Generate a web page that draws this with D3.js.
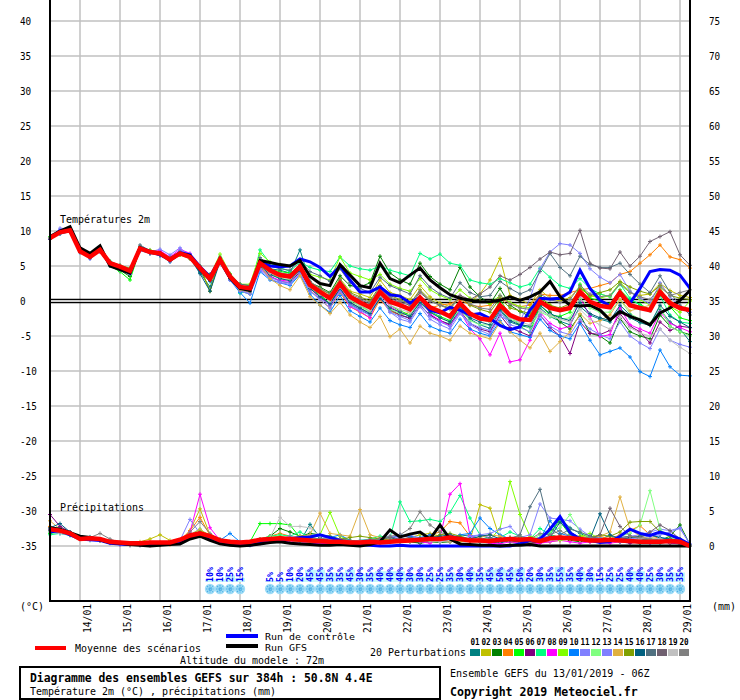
<!DOCTYPE html>
<html>
<head>
<meta charset="utf-8">
<script src="https://cdn.jsdelivr.net/npm/d3@7"></script>
<style>
body{margin:0;background:#fff}
svg{display:block}
text{font-family:"DejaVu Sans Mono",monospace}
</style>
</head>
<body>
<div id="chart"></div>
<script>
// pas de 6h depuis le 13/01/2019 06Z -> 65 echeances (384h)
const runStart = Date.UTC(2019, 0, 13, 6);
const nSteps = 65;

// graduations
const tempTicks = [-35,-30,-25,-20,-15,-10,-5,0,5,10,15,20,25,30,35,40];
const mmTicks = [0,5,10,15,20,25,30,35,40,45,50,55,60,65,70,75];

// couleurs des 20 perturbations
const memberColors = ['#008080','#c0c000','#008000','#ff8000','#00ff00','#800080','#00ff80','#ff00ff','#80ff00','#0080ff',
  '#8080ff','#80ff80','#7f7fff','#e0b040','#80a000','#006080','#507080','#706070','#c0c0c0','#808080'];

/* temperatures 2m (degC) */
const tempMean = [9.0,9.8,10.1,7.1,6.3,7.3,5.4,4.9,4.3,7.5,
  7.0,6.8,5.9,6.8,6.3,4.7,3.2,5.9,3.5,2.0,
  1.8,5.4,4.4,3.7,3.5,4.9,2.3,1.3,0.4,2.5,
  0.6,-0.2,-0.9,1.3,-0.1,-0.6,-1.2,0.5,-0.9,-1.5,
  -2.2,-0.3,-1.8,-2.5,-2.7,-0.6,-2.0,-2.6,-2.7,-0.1,
  -1.0,-1.3,-1.0,1.3,-0.1,-0.7,-0.9,1.2,-0.6,-1.0,
  -1.3,1.3,-0.3,-1.0,-1.3];
const tempControl = [9.0,10.0,10.2,7.3,6.5,7.4,5.2,4.6,4.0,7.6,
  7.1,6.6,6.0,6.9,6.6,4.9,3.5,6.0,3.4,1.9,
  1.6,5.6,5.0,4.9,5.0,6.0,5.6,4.8,3.5,5.0,
  3.0,1.3,1.3,2.0,0.9,0.7,-0.3,0.5,-1.3,-1.7,
  -0.9,-1.3,-2.0,-1.8,-2.5,-3.5,-4.1,-3.7,-1.3,0.4,
  0.3,0.4,1.3,4.4,1.8,0.1,-0.7,1.1,-0.3,1.8,
  4.2,4.5,4.4,3.7,1.8];
const tempGfs = [9.2,10.0,10.6,7.6,6.8,7.9,5.0,4.5,4.0,7.6,
  7.0,6.9,5.8,6.8,6.5,4.5,3.0,5.9,3.3,1.8,
  1.5,5.8,5.5,5.2,5.0,5.8,3.5,2.5,2.2,5.2,
  3.7,2.2,1.9,5.4,3.2,2.6,3.7,4.7,3.0,1.9,
  0.9,0.4,0.1,-0.1,-0.1,0.1,0.6,0.1,0.6,1.3,
  2.8,0.6,-0.6,-0.7,-0.6,-1.3,-2.7,-1.5,-2.2,-2.7,
  -3.4,-1.7,-1.0,0.1,1.5];
const tempMembers = [
  [8.9,9.6,9.9,7.0,6.1,7.2,5.6,4.7,4.1,7.8, 6.9,6.5,5.6,6.9,6.0,4.1,2.0,5.7,3.2,1.4,
   1.0,5.8,4.6,4.4,4.0,7.3,2.8,1.0,-0.5,1.8, -0.4,-1.2,-2.0,0.6,-1.4,-2.0,-2.4,-0.6,-2.0,-2.8,
   -3.3,-1.2,-2.6,-3.4,-3.9,-1.4,-3.0,-3.5,-3.8,-1.0, -2.2,-2.9,-3.4,-0.8,-2.0,-2.6,-3.0,-1.0,-2.4,-3.1,
   -3.5,-1.2,-3.0,-4.0,-5.8],
  [9.1,9.9,10.0,7.2,6.4,7.5,5.2,4.6,4.4,7.4, 7.2,7.0,6.1,6.6,6.5,4.9,1.4,6.2,3.7,1.9,
   2.0,5.1,4.0,3.4,3.8,4.6,2.0,1.6,1.0,3.2, 1.4,1.0,0.5,3.0,1.2,0.8,0.2,2.2,0.6,-0.3,
   -0.8,0.6,-0.2,1.0,3.0,6.1,0.8,0.2,-0.5,1.6, 0.4,0.0,0.5,2.0,0.6,1.0,0.6,2.6,1.2,0.8,
   1.0,2.5,1.5,0.8,0.5],
  [9.0,9.7,10.1,7.0,6.4,7.1,5.3,4.4,3.5,7.3, 7.1,6.7,5.8,6.7,6.2,4.5,3.8,5.9,3.6,2.4,
   2.2,5.6,4.3,3.9,3.3,5.2,2.6,2.0,1.2,3.6, 2.2,2.0,2.6,6.4,4.0,3.0,2.4,5.4,3.5,2.4,
   1.6,4.8,2.0,0.6,-0.4,1.8,-0.6,-1.5,-2.2,0.8, -1.6,-3.0,-4.0,-2.0,-4.6,-5.0,-6.0,-2.5,-4.4,-5.0,
   -5.4,-2.0,-3.6,-4.4,-4.8],
  [9.0,9.8,10.2,7.2,6.3,7.4,5.5,5.0,4.5,7.6, 7.0,6.9,6.0,7.0,6.4,4.8,3.4,6.0,3.2,2.0,
   1.6,5.2,4.0,3.2,3.0,4.4,1.6,0.2,-1.0,1.2, -0.8,-1.6,-2.4,0.2,-1.4,-2.0,-1.6,0.2,-1.0,-0.6,
   -0.4,0.2,-0.6,-0.8,-0.6,0.4,-0.3,-0.8,-0.6,1.0, 0.8,0.8,1.2,1.6,1.8,2.2,2.6,3.8,4.2,5.4,
   6.6,8.0,6.3,5.9,4.7],
  [9.2,10.0,10.0,7.1,6.2,7.2,5.0,4.2,3.0,7.4, 6.8,6.9,5.7,6.6,6.2,4.6,2.8,6.3,3.8,1.8,
   1.4,5.0,4.5,4.2,4.0,4.8,2.0,0.8,-0.4,2.2, 0.2,-0.6,-1.5,1.0,-0.6,-1.4,-2.0,-0.2,-1.5,-2.2,
   -2.8,-0.8,-2.0,-2.6,-3.0,0.2,-2.0,-3.6,-4.5,-0.6, -2.0,-2.2,-1.6,2.4,0.4,0.0,-0.4,1.6,0.2,-0.5,
   -1.2,1.0,-0.8,-2.4,-2.8],
  [8.8,9.7,10.0,7.0,6.2,7.1,5.3,4.8,4.2,7.3, 6.8,6.9,5.7,7.0,6.4,4.4,3.0,5.5,3.2,1.8,
   1.6,4.8,3.6,2.8,2.6,4.2,1.8,0.6,-0.6,1.8, -0.2,-1.0,-1.8,0.4,-1.2,-2.0,-2.5,-0.6,-2.0,-2.8,
   -3.4,-1.4,-3.2,-4.0,-4.4,-2.0,-3.8,-4.4,-5.0,-2.0, -3.8,-5.0,-7.5,-3.0,-4.6,-4.8,-4.2,-1.8,-3.6,-4.4,
   -6.0,-3.0,-4.2,-3.6,-3.8],
  [9.0,9.8,10.1,7.1,6.3,7.3,5.7,5.0,4.6,7.4, 7.1,6.6,5.8,6.8,6.1,4.6,3.0,6.1,3.9,1.1,
   1.5,7.3,5.4,4.8,4.2,5.6,4.8,4.4,4.2,6.3, 5.0,4.6,4.4,5.0,4.4,4.0,3.6,6.8,6.0,6.7,
   5.4,5.1,3.0,2.6,2.4,3.2,2.6,2.0,2.4,4.7, 3.4,2.2,1.8,3.2,1.8,1.0,0.6,2.4,0.4,-0.6,
   -1.4,0.8,-2.0,-3.0,-3.2],
  [9.0,9.7,10.0,7.0,6.4,7.4,5.4,5.0,4.4,7.6, 7.0,7.2,6.3,7.4,6.8,4.9,3.2,5.8,3.3,1.6,
   1.2,4.6,3.4,3.0,2.8,4.8,1.8,0.6,-0.6,1.6, -0.8,-1.5,-2.4,1.0,-0.8,-1.6,-2.2,0.4,-1.8,-2.8,
   -3.6,-1.4,-4.0,-5.4,-7.7,-4.6,-8.7,-8.4,-5.6,-1.6, -3.2,-4.0,-3.6,0.6,-2.2,-5.1,-4.8,-1.0,-3.4,-4.0,
   -4.6,-1.6,-3.2,-3.8,-4.4],
  [9.1,9.9,10.2,7.3,6.5,7.5,5.6,5.1,4.7,7.7, 7.3,6.9,6.2,7.1,6.6,5.0,3.6,6.7,3.9,2.4,
   2.4,6.8,5.6,5.2,5.0,5.8,3.8,3.4,3.0,6.3, 4.0,3.5,3.0,3.8,2.4,1.8,1.4,3.2,1.6,0.8,
   0.2,1.6,0.4,0.0,-0.4,0.8,-0.2,-0.8,-1.0,0.6, -0.6,-1.2,-1.0,1.8,0.8,0.4,0.8,2.6,1.4,0.2,
   -0.6,2.0,-0.8,-1.6,0.0],
  [8.9,9.6,9.9,6.9,6.2,7.2,5.2,4.7,4.1,7.2, 6.8,6.5,5.7,7.2,6.6,4.4,2.8,5.4,3.0,1.2,
   -0.3,4.2,3.0,2.6,2.2,3.8,1.0,-0.6,-1.6,0.8, -1.4,-2.2,-3.0,-1.0,-2.8,-3.4,-3.8,-1.8,-3.6,-4.2,
   -4.6,-2.6,-4.0,-4.6,-5.0,-2.8,-4.4,-4.8,-5.2,-2.6, -4.2,-5.0,-5.4,-3.2,-5.6,-7.7,-7.2,-6.7,-8.0,-10.1,
   -10.8,-7.0,-9.4,-10.6,-10.7],
  [9.1,10.2,10.0,7.2,6.4,7.0,5.0,4.4,3.8,7.2, 7.0,7.4,6.6,7.6,6.4,4.6,3.2,5.6,3.0,1.4,
   1.0,4.4,3.2,2.6,2.4,4.0,1.4,0.2,-1.0,1.4, -0.6,-1.4,-2.0,0.6,-1.6,-2.6,-3.0,-0.8,-2.6,-3.4,
   -4.0,-1.8,-3.4,-4.2,-4.8,-2.2,-2.8,-3.0,0.4,4.6, 7.0,8.2,8.0,6.8,4.6,3.4,2.6,3.8,1.4,0.4,
   -0.4,2.6,0.6,-0.8,-1.6],
  [9.0,9.8,10.0,7.1,6.2,7.3,5.5,4.9,4.4,7.4, 7.0,6.8,6.0,6.9,6.3,4.7,3.4,6.4,3.6,2.1,
   1.8,5.2,3.8,3.2,3.0,4.6,2.2,1.0,0.2,2.2, 0.0,-0.8,-1.6,0.6,-1.2,-1.8,-2.0,0.0,-1.6,-2.4,
   -3.0,-1.2,-2.8,-3.4,-3.4,-1.0,-2.6,-3.2,-3.8,-1.6, -2.2,-2.6,-2.4,0.4,-1.0,-1.6,-1.6,0.2,-1.8,-2.6,
   -3.2,-0.8,-3.6,-4.4,-5.0],
  [9.0,10.4,10.3,7.0,6.0,7.2,5.5,4.6,4.0,7.4, 6.8,6.6,5.6,7.2,6.7,4.8,3.0,5.6,3.0,1.6,
   1.2,4.6,3.4,2.8,2.6,3.8,1.4,0.4,-0.6,1.6, -0.6,-1.2,-1.8,0.8,-1.6,-2.2,-2.8,-0.4,-2.2,-3.0,
   -3.6,-1.6,-3.2,-3.8,-4.2,-1.6,-3.4,-3.8,-4.4,-2.0, -3.6,-4.4,-4.8,-2.6,-4.0,-4.8,-5.4,-3.0,-5.0,-6.0,
   -6.8,-4.0,-5.6,-6.2,-6.6],
  [9.0,9.8,10.1,7.2,6.4,7.3,5.3,4.8,4.2,7.5, 7.0,6.8,5.8,6.6,6.0,4.6,3.0,5.8,3.2,1.6,
   1.3,5.0,3.2,2.2,1.6,3.6,0.6,-0.6,-1.8,-0.2, -2.0,-3.0,-3.8,-2.2,-5.1,-4.0,-6.0,-3.6,-4.6,-5.0,
   -5.6,-3.6,-4.6,-5.0,-5.4,-3.0,-4.4,-5.6,-6.7,-4.6, -7.2,-5.8,-4.4,-1.8,-3.2,-2.8,-2.0,0.2,-1.4,-1.0,
   -0.6,1.4,0.0,-0.8,-1.2],
  [9.0,9.8,10.1,7.0,6.3,7.3,5.4,4.9,4.4,7.4, 7.0,6.6,6.0,6.6,6.2,4.8,1.4,6.0,3.6,2.2,
   1.9,5.6,4.4,3.8,3.6,5.0,2.6,1.8,1.0,3.0, 1.2,0.6,0.0,2.2,0.8,0.2,-0.4,1.6,0.2,-0.6,
   -1.2,0.6,-0.6,-1.2,-1.6,0.4,-1.0,-1.4,-1.8,0.6, -0.6,-1.0,-0.4,1.8,0.8,1.2,1.6,2.8,2.0,1.4,
   1.0,2.2,0.8,0.4,0.2],
  [8.9,9.7,10.0,7.0,6.2,7.2,5.3,4.7,4.2,7.5, 6.9,6.7,5.8,6.8,6.2,3.9,1.4,5.6,3.2,1.8,
   1.4,5.0,3.8,3.2,2.9,4.4,1.8,0.6,-0.4,1.8, -0.2,-1.0,-1.8,0.4,-1.0,-1.6,-2.2,-0.2,-1.6,-2.4,
   -3.0,-0.8,-2.4,-3.0,-3.4,-1.2,-2.8,-3.4,-3.6,-0.6, -1.8,-2.4,-2.8,-0.2,-1.8,-2.4,-2.8,-0.6,-2.0,-2.8,
   -3.4,-0.6,-2.2,-3.0,-3.8],
  [9.0,9.9,10.1,7.2,6.5,7.4,5.6,5.1,4.6,8.0, 7.2,6.9,6.2,7.0,6.5,5.0,3.5,6.2,3.8,2.4,
   2.2,6.2,5.0,4.6,4.4,5.8,4.2,3.6,2.8,4.6, 2.6,1.8,1.2,3.4,2.2,1.6,1.0,3.6,2.0,1.0,
   0.4,2.6,1.2,0.6,0.8,2.8,1.8,1.0,1.6,4.2, 6.8,4.8,3.6,6.4,5.2,4.8,4.8,5.4,3.8,2.4,
   1.2,3.6,1.2,-0.6,-2.0],
  [9.0,9.8,10.1,7.1,6.3,7.3,5.4,4.8,4.2,7.5, 7.0,6.8,6.0,6.8,6.2,4.6,3.2,6.0,3.6,2.0,
   1.8,5.6,4.0,3.6,3.4,5.0,2.6,1.4,0.6,2.6, 0.8,0.2,-0.4,1.8,0.4,-0.2,-0.6,1.2,0.0,-0.6,
   -1.0,0.8,0.2,1.0,2.0,3.6,3.0,3.8,4.8,6.0, 7.0,6.6,6.8,10.1,5.4,4.7,4.6,7.0,5.0,6.4,
   8.5,9.2,9.9,6.6,5.1],
  [9.0,9.8,10.0,7.1,6.3,7.2,5.4,4.8,4.2,7.4, 7.0,6.8,6.0,6.8,6.3,4.7,3.2,5.8,3.4,1.9,
   1.7,5.2,4.0,3.5,3.2,4.6,2.0,1.0,0.0,2.0, 0.2,-0.6,-1.4,0.8,-0.6,-1.2,-1.6,0.2,-1.2,-1.8,
   -2.4,-0.6,-2.0,-2.6,-3.0,-0.8,-2.4,-3.0,-3.4,-1.4, -2.0,-2.6,-3.0,-1.2,-2.6,-3.4,-4.0,-2.4,-3.8,-4.6,
   -5.0,-4.0,-5.6,-6.6,-7.5],
  [9.0,9.8,10.1,7.2,6.4,7.3,5.5,5.0,4.4,7.6, 7.0,6.8,5.9,6.8,6.3,4.8,3.3,5.9,3.6,2.1,
   1.9,5.5,4.4,4.0,3.8,5.2,2.8,1.8,1.0,3.0, 1.0,0.4,-0.2,2.0,0.6,0.0,-0.4,1.4,0.0,-0.6,
   -1.0,0.6,-0.4,-1.0,-1.2,0.8,-0.4,-1.0,-1.2,1.0, 0.2,-0.2,0.2,2.2,1.0,0.6,0.8,2.4,1.2,0.6,
   0.2,2.0,0.8,1.2,1.6]
];

/* precipitations (mm / 6h) */
const rainMean = [2.4,2.2,1.8,1.0,1.1,1.0,0.6,0.5,0.4,0.4,
  0.5,0.5,0.5,0.9,1.5,1.8,1.4,0.8,0.6,0.5,
  0.6,0.9,1.0,1.1,1.0,0.9,0.8,0.7,0.6,0.6,
  0.5,0.5,0.6,0.5,0.6,0.7,0.8,0.9,1.0,1.0,
  1.2,1.0,0.8,0.8,0.7,0.9,1.0,0.9,1.0,0.7,
  1.1,1.2,1.1,1.0,0.8,0.8,0.9,0.8,0.7,0.6,
  0.6,0.6,0.7,0.6,0.0];
const rainControl = [2.0,2.2,1.6,1.0,0.9,0.8,0.4,0.3,0.2,0.2,
  0.2,0.2,0.3,0.6,1.2,1.5,1.0,0.4,0.2,0.1,
  0.1,0.4,0.6,0.8,1.0,1.2,1.3,1.6,1.2,0.8,
  0.4,0.2,0.1,0.0,0.0,0.1,0.0,0.0,0.0,0.0,
  0.0,0.0,0.0,0.0,0.0,0.0,0.0,0.3,0.8,1.0,
  2.4,4.2,1.9,1.0,0.8,0.5,0.6,1.4,2.4,1.8,
  1.5,2.0,1.6,1.0,0.2];
const rainGfs = [2.6,2.4,1.9,1.4,1.2,0.9,0.5,0.4,0.2,0.1,
  0.0,0.1,0.2,0.3,1.0,1.4,0.8,0.3,0.1,0.0,
  0.1,0.3,0.5,0.6,0.4,0.3,0.2,0.1,0.1,0.2,
  0.1,0.0,0.2,0.6,2.3,1.3,1.7,2.0,1.0,3.0,
  1.0,0.3,0.2,0.1,0.1,0.0,0.1,0.1,0.2,0.0,
  0.0,0.0,0.0,0.0,0.0,0.0,0.0,0.0,0.0,0.0,
  0.0,0.0,0.0,0.0,0.0];
const rainMembers = [
  [2.3,2.6,1.6,1.0,1.3,1.0,0.5,0.2,0.1,0.1, 0.2,0.3,0.4,0.8,1.6,2.0,1.2,0.5,0.3,0.2,
   0.1,0.6,0.9,1.0,0.8,0.6,3.1,1.2,0.6,0.4, 0.3,0.2,0.3,0.4,0.6,0.8,0.6,0.5,0.7,0.9,
   1.2,1.4,1.6,1.0,0.6,0.4,0.8,0.6,0.5,0.4, 1.5,4.0,2.6,1.8,1.2,1.0,1.5,0.8,0.6,0.4, 0.5,0.4,0.6,0.8,0.0],
  [2.0,2.2,1.8,1.2,1.0,0.8,0.4,0.3,0.2,0.6, 1.0,1.6,0.8,0.6,2.2,5.3,1.6,0.4,0.2,0.1,
   0.2,0.4,0.6,0.8,0.6,0.4,0.3,0.5,0.6,0.4, 0.3,0.4,0.5,0.6,1.0,0.8,1.2,1.6,1.8,1.4,
   1.0,0.6,0.8,5.9,5.4,1.0,0.6,0.4,0.3,0.5, 0.6,0.8,1.0,1.4,1.2,1.0,0.8,0.6,0.8,1.0, 1.2,1.0,0.8,0.6,0.0],
  [2.6,2.4,1.9,1.1,1.0,0.9,0.6,0.4,0.3,0.2, 0.2,0.2,0.3,0.5,1.2,1.4,1.0,0.6,0.4,0.3,
   0.4,0.8,1.4,2.5,2.0,1.4,1.8,1.6,1.4,1.0, 0.8,0.6,0.8,1.0,1.2,0.8,0.6,0.4,0.6,0.5,
   0.6,0.8,1.0,0.9,0.7,0.6,0.8,0.5,0.6,0.8, 1.6,1.2,0.8,0.6,0.9,0.7,0.8,0.6,0.8,0.5, 0.6,0.8,1.4,3.0,0.2],
  [2.8,2.2,1.7,1.0,1.1,1.0,0.6,0.4,0.2,0.2, 0.1,0.1,0.2,0.8,2.2,4.1,1.5,0.6,0.3,0.2,
   0.3,1.0,1.4,1.8,1.4,1.2,1.0,0.8,0.6,0.7, 0.6,0.4,0.5,0.6,0.8,0.9,1.0,0.8,1.6,2.0,
   3.5,3.3,1.4,0.8,0.6,0.8,1.2,0.8,0.6,0.5, 0.8,1.0,1.2,0.8,1.0,1.4,1.0,1.6,2.2,2.9, 1.6,1.0,0.8,0.6,0.0],
  [1.8,2.0,1.6,1.2,1.0,0.8,0.5,0.4,0.3,0.2, 0.3,0.4,0.5,0.7,1.4,2.0,1.4,0.8,0.5,0.4,
   0.6,3.2,3.2,3.2,3.0,1.2,0.9,0.8,0.7,0.6, 0.8,0.6,0.8,1.0,0.7,0.6,0.8,1.2,1.0,0.8,
   1.4,1.0,0.8,0.6,0.7,0.8,0.6,0.5,0.8,1.2, 2.0,3.5,1.6,1.0,0.8,0.6,1.0,0.8,0.7,0.8, 1.0,0.8,0.6,0.4,0.1],
  [4.5,2.8,2.0,1.2,1.0,0.9,0.6,0.3,0.2,0.2, 0.2,0.3,0.3,0.5,1.4,1.6,1.2,0.6,0.4,0.2,
   0.3,0.6,0.8,1.0,0.7,0.6,0.5,0.4,0.4,0.3, 0.4,0.5,0.6,0.8,1.0,1.6,1.2,1.0,0.8,1.0,
   1.2,1.0,0.8,0.6,0.5,0.6,0.8,0.6,0.4,0.6, 0.8,1.0,1.2,0.8,0.6,0.8,1.0,0.6,0.4,0.6, 0.8,0.6,0.4,0.3,0.0],
  [1.6,1.8,1.5,1.0,0.8,0.8,0.5,0.3,0.2,0.2, 0.2,0.3,0.4,0.6,1.6,2.4,1.4,0.6,0.4,0.3,
   0.4,1.0,1.4,1.6,1.4,2.0,1.2,1.0,0.8,0.6, 0.6,0.8,1.0,1.4,1.2,6.3,3.5,3.6,3.8,3.5,
   4.8,7.2,4.0,1.6,1.0,1.2,2.0,1.4,1.0,2.5, 1.6,1.2,1.0,0.8,1.0,1.2,0.8,0.6,0.8,1.0, 0.8,0.6,0.8,0.6,0.0],
  [2.4,2.0,1.8,1.0,0.9,0.8,0.4,0.2,0.1,0.1, 0.1,0.2,0.3,0.6,2.0,7.4,2.6,0.8,0.4,0.2,
   0.2,0.4,0.6,0.8,0.6,0.5,0.4,0.3,0.4,0.6, 0.4,0.3,0.4,0.6,0.8,1.0,0.8,0.6,0.4,1.2,
   7.4,8.9,1.5,0.6,0.4,0.3,0.6,0.4,0.2,0.4, 0.6,0.8,0.6,0.4,0.6,0.5,0.4,0.6,0.8,0.6, 0.4,0.6,0.5,0.4,0.0],
  [2.2,2.0,1.8,1.1,1.0,0.9,0.5,0.3,0.2,0.2, 0.2,0.3,0.4,0.7,1.4,2.2,1.6,1.0,0.6,0.4,
   0.5,0.8,1.2,1.4,1.0,0.8,1.0,1.6,4.8,1.4, 0.8,0.6,0.5,1.0,0.8,0.6,0.7,0.8,0.9,1.0,
   0.8,1.2,1.0,0.8,0.9,2.5,9.2,4.5,1.4,1.0, 1.2,0.8,1.0,1.4,1.8,1.0,0.8,1.0,1.2,1.4, 1.0,0.8,0.6,1.0,0.0],
  [2.0,1.8,1.6,1.2,1.0,0.9,0.6,0.4,0.2,0.2, 0.2,0.2,0.3,0.6,1.2,1.6,1.0,0.8,1.8,0.6,
   0.4,0.6,0.8,1.0,1.2,0.8,1.6,1.4,1.2,1.6, 0.8,0.6,0.8,0.7,1.0,1.6,1.4,1.2,1.6,1.0,
   1.2,1.6,1.8,4.0,2.5,1.6,1.0,0.8,0.6,1.0, 3.6,1.8,1.4,1.0,1.2,0.8,1.0,1.2,1.0,0.8, 1.6,1.2,1.0,0.8,0.0],
  [2.2,2.0,1.8,1.0,1.0,0.8,0.5,0.3,0.2,0.2, 0.3,0.4,0.6,0.8,3.8,1.8,1.6,1.0,0.6,0.4,
   0.4,0.6,0.8,1.0,1.4,1.2,1.0,0.8,0.7,0.6, 0.5,0.6,0.8,0.6,0.5,0.6,0.8,0.9,1.0,0.8,
   0.6,0.8,1.2,1.6,1.8,2.4,2.8,1.2,1.6,6.0, 4.0,3.8,3.6,2.4,1.4,1.0,0.8,1.2,1.4,1.6, 2.0,2.4,2.2,2.6,0.2],
  [2.0,2.2,1.6,1.1,1.0,0.9,0.5,0.3,0.2,0.2, 0.2,0.3,0.4,0.6,1.4,1.8,1.2,0.6,0.4,0.3,
   0.4,0.6,0.8,1.0,0.8,0.6,0.6,0.8,1.0,0.8, 0.6,0.5,0.6,0.8,1.0,0.8,0.6,0.7,0.8,0.6,
   0.8,0.9,0.7,0.6,0.8,1.0,1.2,1.0,0.8,1.6, 2.0,2.6,4.5,2.0,1.2,0.8,1.0,1.4,1.8,3.0, 7.9,2.4,1.2,0.8,0.0],
  [2.4,2.0,1.8,1.2,1.1,0.9,0.5,0.3,0.3,0.2, 0.2,0.2,0.4,0.6,1.4,1.6,1.2,0.8,0.6,0.4,
   0.4,0.8,1.0,1.2,1.0,0.8,0.9,1.0,0.8,0.7, 0.6,0.8,0.9,1.0,1.4,1.2,1.6,1.0,0.8,0.6,
   0.8,1.0,1.4,1.6,1.2,1.0,0.8,1.0,0.9,1.2, 1.4,1.2,1.0,0.8,1.0,1.2,0.8,0.6,1.0,1.2, 1.4,1.6,2.0,2.5,0.3],
  [3.6,2.4,1.8,1.0,1.0,1.0,0.5,0.3,0.2,0.2, 0.3,0.6,0.4,0.6,1.6,2.4,1.4,0.6,0.4,0.3,
   0.4,0.6,0.8,1.0,1.2,1.4,1.6,4.7,1.8,1.6, 1.4,5.2,1.6,1.2,0.8,0.6,0.8,0.9,1.0,0.8,
   0.6,0.8,1.0,1.2,1.6,1.4,1.0,0.8,0.6,0.8, 1.0,1.2,1.0,0.8,1.2,1.4,2.0,7.0,2.4,1.4, 1.0,0.8,0.6,0.5,0.0],
  [2.2,2.0,1.7,1.0,1.0,0.8,0.5,0.3,0.2,0.2, 0.2,0.3,0.4,0.6,1.4,1.8,1.2,0.6,0.4,0.3,
   0.3,0.6,0.8,1.0,0.8,0.7,0.6,0.6,0.8,1.0, 1.2,1.4,1.2,1.0,0.8,0.6,0.8,1.0,1.2,1.6,
   1.8,1.4,1.0,0.8,0.7,0.8,1.0,1.2,1.0,0.8, 1.0,1.4,1.2,1.0,1.2,1.6,1.4,2.0,3.4,3.5, 3.5,2.0,1.4,1.0,0.1],
  [2.6,3.2,2.0,1.2,1.1,0.9,0.6,0.4,0.2,0.2, 0.2,0.2,0.3,0.6,1.4,1.8,1.6,0.8,0.4,0.3,
   0.4,0.6,1.0,1.2,1.0,0.8,0.8,0.9,1.0,0.8, 0.7,0.6,0.7,0.8,0.6,0.7,0.8,1.0,1.2,1.4,
   1.6,1.2,1.0,1.4,1.6,1.0,0.8,0.6,0.8,1.0, 1.2,3.4,2.0,1.2,1.0,4.6,1.6,1.0,1.2,1.4, 1.6,1.2,1.0,0.8,0.0],
  [2.2,2.0,1.6,1.0,1.0,0.9,0.5,0.3,0.2,0.2, 0.2,0.3,0.4,0.6,1.6,2.0,1.4,0.8,0.5,0.4,
   0.4,0.6,0.8,1.0,1.2,1.0,0.8,0.9,1.0,0.8, 0.6,0.7,0.8,0.6,0.8,1.0,1.2,1.0,0.8,0.6,
   0.8,1.0,0.8,1.0,1.2,0.8,1.0,1.6,5.6,8.1, 2.5,1.6,2.4,2.0,1.4,1.0,0.8,1.2,1.4,1.0, 0.8,1.0,0.8,0.6,0.0],
  [2.4,2.2,1.8,1.0,1.0,0.8,0.5,0.3,0.2,0.2, 0.2,0.3,0.4,0.6,1.2,1.6,1.2,0.6,0.4,0.3,
   0.4,0.6,0.8,1.0,0.9,0.8,0.7,0.8,0.9,0.8, 0.6,0.7,0.8,1.0,1.2,1.0,0.8,0.6,0.8,1.0,
   1.2,1.0,0.8,0.6,0.8,1.0,1.2,1.0,0.8,1.0, 1.2,1.0,1.4,1.2,1.0,1.6,5.4,2.8,1.4,1.2, 2.0,3.0,2.2,1.0,0.0],
  [2.0,1.8,1.6,1.0,0.9,0.8,0.4,0.3,0.2,0.2, 0.2,0.3,0.3,0.6,1.2,1.6,1.0,0.6,0.4,0.3,
   0.3,0.8,1.2,4.1,2.8,2.8,2.6,1.4,1.0,0.8, 0.6,0.7,0.6,0.8,0.6,0.5,0.6,0.8,0.7,0.6,
   0.8,1.0,0.8,0.7,0.6,0.8,1.0,0.8,0.9,0.7, 0.8,1.0,1.2,0.9,0.8,1.0,0.8,0.7,0.9,1.0, 1.2,1.0,0.8,0.6,0.0],
  [2.6,2.0,1.6,1.1,1.2,1.8,1.0,0.5,0.3,0.2, 0.2,0.3,0.4,0.8,2.0,3.5,1.8,0.8,0.4,0.3,
   0.4,0.8,1.0,1.2,1.0,0.8,0.9,1.0,1.2,1.0, 0.8,0.6,0.8,1.0,1.4,1.6,2.5,4.9,3.0,2.0,
   1.4,1.0,0.8,0.6,0.8,1.0,1.2,1.4,1.0,1.8, 1.6,2.2,1.4,1.0,1.2,1.0,0.8,1.0,1.4,1.2, 1.0,0.8,0.6,0.4,0.0]
];

/* probabilite de neige (%) par echeance, null = pas de neige */
const snowPct = [null,null,null,null,null,null,null,null,null,null,
  null,null,null,null,null,null,10,10,25,15,
  null,null,5,5,10,20,45,45,35,35,
  45,30,35,40,40,40,30,30,25,25,
  35,30,40,35,45,50,45,50,20,30,
  35,55,35,40,30,15,25,25,40,40,
  25,30,35,35,null];

const W = 740, H = 700;
const times = d3.range(nSteps).map(i => new Date(runStart + i * 6 * 3600 * 1000));

const x = d3.scaleUtc().domain([times[0], times[nSteps - 1]]).range([50, 690]);
const yT = d3.scaleLinear().domain([-35, 40]).range([546, 21]);
const yP = d3.scaleLinear().domain([0, 75]).range([546, 21]);

// police etroite : on force la largeur de chaque texte
function narrow(sel, cw) {
  sel.attr('textLength', function () { return this.textContent.length * cw; })
     .attr('lengthAdjust', 'spacingAndGlyphs');
}

const svg = d3.select('#chart').append('svg')
  .attr('width', W).attr('height', H);

// grille
svg.append('g').selectAll('line.h')
  .data(tempTicks).enter().append('line')
  .attr('x1', 50).attr('x2', 690)
  .attr('y1', d => yT(d)).attr('y2', d => yT(d))
  .attr('stroke', '#c0c0c0').attr('stroke-width', 1.5);

const days = x.ticks(d3.utcDay.every(1)).filter(d => d > times[0]);
svg.append('g').selectAll('line.v')
  .data(days).enter().append('line')
  .attr('x1', d => x(d)).attr('x2', d => x(d))
  .attr('y1', 0).attr('y2', 601)
  .attr('stroke', '#c0c0c0').attr('stroke-width', 1.5);

// ligne du 0 degre (double)
[-1.6, 1.6].forEach(o => {
  svg.append('line')
    .attr('x1', 50).attr('x2', 690)
    .attr('y1', yT(0) + o).attr('y2', yT(0) + o)
    .attr('stroke', '#000').attr('stroke-width', 1.3);
});

// neige : barres de probabilite, flocons, pourcentages
const snow = times.map((t, i) => ({t: t, p: snowPct[i]})).filter(d => d.p !== null);

svg.append('g').selectAll('rect')
  .data(snow).enter().append('rect')
  .attr('x', d => x(d.t) - 5).attr('width', 10)
  .attr('y', d => 582 - d.p * 0.27).attr('height', d => d.p * 0.27)
  .attr('fill', '#c4f6fc');

const flakes = svg.append('g').selectAll('g')
  .data(snow).enter().append('g')
  .attr('transform', d => `translate(${x(d.t)},589)`);
flakes.append('circle').attr('r', 5.2).attr('fill', '#9edcf6');
flakes.append('path')
  .attr('d', 'M-4,0H4M0,-4V4M-3,-3L3,3M-3,3L3,-3')
  .attr('stroke', '#4fb0e6').attr('stroke-width', 1.2)
  .attr('stroke-dasharray', '1.5,1');

svg.append('g').selectAll('text')
  .data(snow).enter().append('text')
  .attr('transform', d => `translate(${x(d.t) + 3},582) rotate(-90)`)
  .attr('font-size', 8.5).attr('font-weight', 'bold')
  .attr('fill', '#0000ff')
  .text(d => d.p + '%')
  .call(narrow, 5);

// courbes
const lineT = d3.line().x((d, i) => x(times[i])).y(d => yT(d));
const lineP = d3.line().x((d, i) => x(times[i])).y(d => yP(d));

function crosses(values, yScale) {
  return values.map((v, i) => {
    const px = x(times[i]), py = yScale(v);
    return `M${px - 2},${py}h4M${px},${py - 2}v4`;
  }).join('');
}

const gLines = svg.append('g').attr('fill', 'none');

tempMembers.forEach((m, k) => {
  gLines.append('path').attr('d', lineT(m))
    .attr('stroke', memberColors[k]).attr('stroke-width', 1);
  gLines.append('path').attr('d', crosses(m, yT))
    .attr('stroke', memberColors[k]).attr('stroke-width', 1);
});
rainMembers.forEach((m, k) => {
  gLines.append('path').attr('d', lineP(m))
    .attr('stroke', memberColors[k]).attr('stroke-width', 1);
  gLines.append('path').attr('d', crosses(m, yP))
    .attr('stroke', memberColors[k]).attr('stroke-width', 1);
});

gLines.append('path').attr('d', lineT(tempControl)).attr('stroke', '#0000ff').attr('stroke-width', 3);
gLines.append('path').attr('d', lineP(rainControl)).attr('stroke', '#0000ff').attr('stroke-width', 3);
gLines.append('path').attr('d', lineT(tempGfs)).attr('stroke', '#000').attr('stroke-width', 3);
gLines.append('path').attr('d', lineP(rainGfs)).attr('stroke', '#000').attr('stroke-width', 3);
gLines.append('path').attr('d', lineT(tempMean)).attr('stroke', '#ff0000').attr('stroke-width', 4.5);
gLines.append('path').attr('d', lineP(rainMean)).attr('stroke', '#ff0000').attr('stroke-width', 4.5);

// cadre
svg.append('path')
  .attr('d', 'M50,0V601H690V0')
  .attr('fill', 'none').attr('stroke', '#000').attr('stroke-width', 2);

// axes
svg.append('g').selectAll('text')
  .data(tempTicks).enter().append('text')
  .attr('x', 20).attr('y', d => yT(d) + 4)
  .attr('font-size', 11).text(d => d)
  .call(narrow, 5.6);

svg.append('g').selectAll('text')
  .data(mmTicks).enter().append('text')
  .attr('x', 709).attr('y', d => yP(d) + 4)
  .attr('font-size', 11).text(d => d)
  .call(narrow, 5.6);

svg.append('text').attr('x', 20).attr('y', 610).attr('font-size', 11).text('(°C)').call(narrow, 6);
svg.append('text').attr('x', 712).attr('y', 610).attr('font-size', 11).text('(mm)').call(narrow, 6);

const fmt = d3.utcFormat('%d/%m');
svg.append('g').selectAll('text')
  .data(days).enter().append('text')
  .attr('transform', d => `translate(${x(d) + 11},604) rotate(-90)`)
  .attr('text-anchor', 'end')
  .attr('font-size', 11).text(d => fmt(d))
  .call(narrow, 5.8);

svg.append('text').attr('x', 60).attr('y', 223).attr('font-size', 11).text('Températures 2m').call(narrow, 6);
svg.append('text').attr('x', 60).attr('y', 511).attr('font-size', 11).text('Précipitations').call(narrow, 6);

// legende
const legend = svg.append('g').attr('font-size', 11);
legend.append('line').attr('x1', 35).attr('x2', 66).attr('y1', 648).attr('y2', 648)
  .attr('stroke', '#ff0000').attr('stroke-width', 4);
legend.append('text').attr('x', 75).attr('y', 652).text('Moyenne des scénarios').call(narrow, 6);
legend.append('line').attr('x1', 226).attr('x2', 258).attr('y1', 636).attr('y2', 636)
  .attr('stroke', '#0000ff').attr('stroke-width', 4);
legend.append('text').attr('x', 265).attr('y', 640).attr('font-size', 9.5)
  .text('Run de contrôle').call(narrow, 6);
legend.append('line').attr('x1', 226).attr('x2', 258).attr('y1', 646).attr('y2', 646)
  .attr('stroke', '#000').attr('stroke-width', 4);
legend.append('text').attr('x', 265).attr('y', 651).attr('font-size', 9.5)
  .text('Run GFS').call(narrow, 6);
legend.append('text').attr('x', 180).attr('y', 664).text('Altitude du modele : 72m').call(narrow, 6);
legend.append('text').attr('x', 370).attr('y', 656).text('20 Perturbations').call(narrow, 6);

legend.selectAll('rect.m')
  .data(memberColors).enter().append('rect')
  .attr('x', (d, k) => 470 + k * 11).attr('y', 649)
  .attr('width', 10).attr('height', 7)
  .attr('fill', d => d);
legend.selectAll('text.m')
  .data(memberColors).enter().append('text')
  .attr('x', (d, k) => 475 + k * 11).attr('y', 645)
  .attr('text-anchor', 'middle')
  .attr('font-size', 8).attr('font-weight', 'bold')
  .text((d, k) => d3.format('02d')(k + 1))
  .call(narrow, 4.6);

// cartouche
svg.append('rect').attr('x', 20).attr('y', 667).attr('width', 420).attr('height', 32)
  .attr('fill', 'none').attr('stroke', '#000').attr('stroke-width', 2);
svg.append('text').attr('x', 30).attr('y', 682).attr('font-size', 12).attr('font-weight', 'bold')
  .text('Diagramme des ensembles GEFS sur 384h : 50.8N 4.4E').call(narrow, 6.85);
svg.append('text').attr('x', 30).attr('y', 695).attr('font-size', 11)
  .text('Température 2m (°C) , précipitations (mm)').call(narrow, 6);
svg.append('text').attr('x', 450).attr('y', 677).attr('font-size', 11)
  .text('Ensemble GEFS du 13/01/2019 - 06Z').call(narrow, 6.05);
svg.append('text').attr('x', 450).attr('y', 696).attr('font-size', 12).attr('font-weight', 'bold')
  .text('Copyright 2019 Meteociel.fr').call(narrow, 6.95);
</script>
</body>
</html>
